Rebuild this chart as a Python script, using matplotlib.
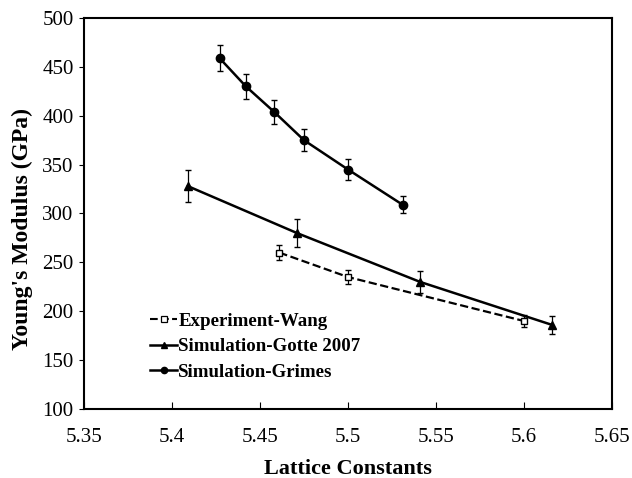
import matplotlib.pyplot as plt
from matplotlib.lines import Line2D

# Experiment-Wang
wang_x = [5.461, 5.500, 5.600]
wang_y = [260, 235, 190]
wang_err = [8, 7, 6.5]

# Simulation-Gotte 2007
gotte_x = [5.409, 5.471, 5.541, 5.616]
gotte_y = [328, 280, 230, 186]
gotte_err = [16.5, 14, 11.5, 9.5]

# Simulation-Grimes
grimes_x = [5.427, 5.442, 5.458, 5.475, 5.500, 5.531]
grimes_y = [459, 430, 404, 375, 345, 309]
grimes_err = [13.5, 12.5, 12.5, 11.5, 11, 9]

x_ticks = [5.35, 5.4, 5.45, 5.5, 5.55, 5.6, 5.65]
y_ticks = [100, 150, 200, 250, 300, 350, 400, 450, 500]

plt.rcParams['font.family'] = ['Liberation Serif', 'DejaVu Serif']

fig = plt.figure(figsize=(6.32, 4.78), dpi=100)
ax = fig.add_axes([84 / 632, 1 - 409 / 478, 528 / 632, 391 / 478])

ax.errorbar(wang_x, wang_y, yerr=wang_err, color='black', ls='--', lw=1.6,
            marker='s', ms=5, mfc='white', mew=1, capsize=2.5, elinewidth=0.9)
ax.errorbar(gotte_x, gotte_y, yerr=gotte_err, color='black', ls='-', lw=1.8,
            marker='^', ms=6, capsize=2.5, elinewidth=0.9)
ax.errorbar(grimes_x, grimes_y, yerr=grimes_err, color='black', ls='-', lw=1.8,
            marker='o', ms=6, capsize=2.5, elinewidth=0.9)

ax.set_xlim(5.35, 5.65)
ax.set_ylim(100, 500)
ax.set_xticks(x_ticks)
ax.set_xticklabels(['5.35', '5.4', '5.45', '5.5', '5.55', '5.6', '5.65'])
ax.set_yticks(y_ticks)
ax.tick_params(axis='x', direction='in', length=5, labelsize=15, pad=14)
ax.tick_params(axis='y', direction='out', length=3.5, labelsize=15, pad=4)
for s in ax.spines.values():
    s.set_linewidth(1.5)

ax.set_xlabel('Lattice Constants', fontsize=16, fontweight='bold')
ax.xaxis.set_label_coords(0.5, -(469 - 409) / 391)
ax.xaxis.label.set_va('center')
ax.set_ylabel("Young's Modulus (GPa)", fontsize=17, fontweight='bold')
ax.yaxis.set_label_coords(-(84 - 22) / 528, (409 - 229) / 391)
ax.yaxis.label.set_va('center')

handles = [
    Line2D([], [], color='black', ls='--', lw=1.5, marker='s', ms=4, mfc='white', mew=0.9),
    Line2D([], [], color='black', ls='-', lw=1.8, marker='^', ms=4.5),
    Line2D([], [], color='black', ls='-', lw=1.8, marker='o', ms=4.5),
]
labels = ['Experiment-Wang', 'Simulation-Gotte 2007', 'Simulation-Grimes']
ax.legend(handles, labels, loc='upper left', bbox_to_anchor=(0.125, 0.247),
          frameon=False, prop={'weight': 'bold', 'size': 13.6}, handlelength=1.45,
          handletextpad=0.05, labelspacing=0.45, borderaxespad=0, borderpad=0)

fig.savefig('out.png', dpi=100)
